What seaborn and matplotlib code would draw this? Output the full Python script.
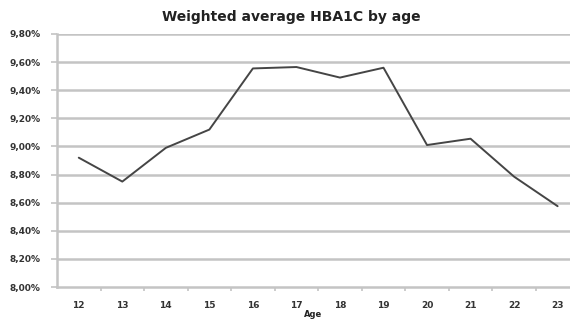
import numpy as np
import pandas as pd
import matplotlib
matplotlib.use("Agg")
import matplotlib.pyplot as plt
from matplotlib.ticker import FuncFormatter, FixedLocator
import seaborn as sns

# values
ages = [12, 13, 14, 15, 16, 17, 18, 19, 20, 21, 22, 23]
hba1c = [8.92, 8.75, 8.99, 9.12, 9.555, 9.565, 9.49, 9.56, 9.01, 9.055, 8.785, 8.575]
y_ticks = [8.0, 8.2, 8.4, 8.6, 8.8, 9.0, 9.2, 9.4, 9.6, 9.8]

df = pd.DataFrame({"age": ages, "hba1c": hba1c})

sns.set_style("white")
plt.rcParams['font.family'] = ['DejaVu Sans']

fig = plt.figure(figsize=(5.7, 3.22), dpi=100)
ax = fig.add_axes([57 / 570, 1 - 287 / 322, 1 - 57 / 570, (287 - 34) / 322])

grid_col = "#c4c4c4"
for t in y_ticks[1:]:
    ax.axhline(t, color=grid_col, lw=1.8, zorder=0)

sns.lineplot(data=df, x="age", y="hba1c", ax=ax, color="#454545", lw=1.4, zorder=3)

ax.set_xlim(11.5, 11.5 + (570 - 56.2) / 43.6)
ax.set_ylim(8.0, 9.8)
ax.set_xticks(ages)
ax.xaxis.set_minor_locator(FixedLocator([a + 0.5 for a in ages]))
ax.set_yticks(y_ticks)
ax.yaxis.set_major_formatter(FuncFormatter(lambda v, p: f"{v:.2f}%".replace(".", ",")))

for s in ["top", "right"]:
    ax.spines[s].set_visible(False)
for s in ["left", "bottom"]:
    ax.spines[s].set_color(grid_col)
    ax.spines[s].set_linewidth(1.8)

ax.tick_params(axis="x", which="major", length=0, pad=10, labelsize=6.5, labelcolor="#333333")
ax.tick_params(axis="x", which="minor", length=3, width=1.2, color=grid_col, direction="out")
ax.tick_params(axis="y", which="major", length=4, width=1.2, color=grid_col, pad=8,
               labelsize=6.5, labelcolor="#333333")
ax.tick_params(left=True, bottom=False)
ax.xaxis.set_tick_params(which="minor", bottom=True)
for lab in ax.get_xticklabels() + ax.get_yticklabels():
    lab.set_fontweight("bold")

ax.set_xlabel("Age", fontsize=6, fontweight="bold", color="#222222", labelpad=0)
ax.set_ylabel("")

fig.text(291 / 570, 1 - 17 / 322, "Weighted average HBA1C by age", ha="center", va="center",
         fontsize=10, fontweight="bold", color="#222222")

fig.savefig("out.png", dpi=100)
